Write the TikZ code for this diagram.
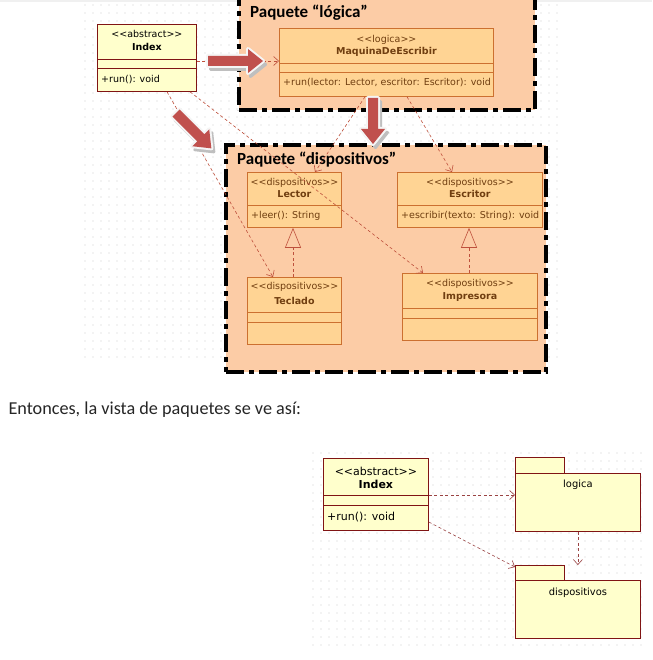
\documentclass[tikz,border=0pt]{standalone}
\usepackage{fontspec}
\setmainfont{Carlito}
\newfontfamily\uml{DejaVu Sans}
\usetikzlibrary{arrows.meta}
\definecolor{paq}{RGB}{252,204,166}
\definecolor{caja}{RGB}{255,212,148}
\definecolor{borde}{RGB}{204,112,48}
\definecolor{amarillo}{RGB}{255,255,204}
\definecolor{granate}{RGB}{128,20,20}
\definecolor{texto}{RGB}{112,62,16}
\definecolor{linea}{RGB}{190,80,60}
\definecolor{rojo}{RGB}{192,80,77}
\newcommand\st[1]{<\kern0pt<#1>\kern0pt>}
\newcommand\formaflecha[1]{(0,-5) -- (#1-15,-5) -- (#1-15,-12) -- (#1,0) -- (#1-15,12) -- (#1-15,5) -- (0,5) -- cycle}
\newcommand\flecha[4]{%
  \filldraw[gray!50,line width=3pt,line join=round,shift={(#1+2.5,#2+3.5)},rotate=#3] \formaflecha{#4};
  \draw[gray!8,line width=4pt,line join=round,shift={(#1,#2)},rotate=#3] \formaflecha{#4};
  \fill[rojo,shift={(#1,#2)},rotate=#3] \formaflecha{#4};}

\begin{document}
\begin{tikzpicture}[x=1pt,y=-1pt,
  clase/.style={draw=borde,fill=caja,line width=0.8pt,anchor=north west,inner sep=0pt},
  abstracta/.style={clase,draw=granate,fill=amarillo},
  paquete/.style={draw=black,fill=paq,line width=4pt,dash pattern=on 18pt off 5pt on 5pt off 5pt,anchor=north west,inner sep=0pt},
  carpeta/.style={draw=granate,fill=amarillo,line width=0.8pt,anchor=north west,inner sep=0pt},
  txt/.style={font=\uml\fontsize{9.5}{11}\selectfont,text=texto,inner sep=0pt},
  txtb/.style={txt,font=\uml\bfseries\fontsize{9.5}{11}\selectfont},
  txtg/.style={font=\uml\fontsize{11}{13}\selectfont,inner sep=0pt},
  txtgb/.style={font=\uml\bfseries\fontsize{11}{13}\selectfont,inner sep=0pt},
  titulo/.style={font=\bfseries\fontsize{17}{20}\selectfont,anchor=base west,inner sep=0pt},
  dep/.style={linea,line width=0.6pt,dash pattern=on 3pt off 2.5pt,-{Straight Barb[length=5pt,width=9pt]}},
  real/.style={linea,line width=0.6pt,dash pattern=on 3pt off 2.5pt,-{Triangle[length=20pt,width=16pt,fill=paq]}},
  punto/.style={gray!40}]
\useasboundingbox (0,0) rectangle (652,660);
\clip (0,0) rectangle (652,660);
\fill[white] (0,0) rectangle (652,660);
\fill[gray!12] (0,0) rectangle (652,2);
\foreach \x in {85,93,...,559} \foreach \y in {5,13,...,357} \fill[punto] (\x,\y) circle (0.55);
\foreach \x in {313,321,...,645} \foreach \y in {453,461,...,645} \fill[punto] (\x,\y) circle (0.55);

% paquetes
\node[paquete,minimum width=296,minimum height=128] (logica) at (237,-20) {};
\node[titulo] at (250,18) {Paquete “lógica”};
\node[paquete,minimum width=320,minimum height=227] (dispositivos) at (224,143) {};
\node[titulo] at (237,165) {Paquete “dispositivos”};

% clases
\node[abstracta,minimum width=99,minimum height=67] (index) at (97,24) {};
\draw[granate,line width=0.8pt] ([yshift=-35]index.north west) -- ([yshift=-35]index.north east);
\draw[granate,line width=0.8pt] ([yshift=-44]index.north west) -- ([yshift=-44]index.north east);
\node[txt,text=black] at ([yshift=-10]index.north) {\st{abstract}};
\node[txtb,text=black] at ([yshift=-23]index.north) {Index};
\node[txt,text=black,anchor=west] at ([xshift=4,yshift=-56]index.north west) {+run(): void};

\node[clase,minimum width=214,minimum height=68] (maquina) at (279,28) {};
\draw[borde,line width=0.8pt] ([yshift=-35]maquina.north west) -- ([yshift=-35]maquina.north east);
\draw[borde,line width=0.8pt] ([yshift=-44]maquina.north west) -- ([yshift=-44]maquina.north east);
\node[txt] at ([yshift=-12]maquina.north) {\st{logica}};
\node[txtb] at ([yshift=-24]maquina.north) {MaquinaDeEscribir};
\node[txt,anchor=west] at ([xshift=4,yshift=-55]maquina.north west) {+run(lector: Lector, escritor: Escritor): void};

\node[clase,minimum width=94,minimum height=55] (lector) at (247,172) {};
\draw[borde,line width=0.8pt] ([yshift=-33]lector.north west) -- ([yshift=-33]lector.north east);
\node[txt] at ([yshift=-11]lector.north) {\st{dispositivos}};
\node[txtb] at ([yshift=-22]lector.north) {Lector};
\node[txt,anchor=west] at ([xshift=4,yshift=-44]lector.north west) {+leer(): String};

\node[clase,minimum width=145,minimum height=55] (escritor) at (397,172) {};
\draw[borde,line width=0.8pt] ([yshift=-33]escritor.north west) -- ([yshift=-33]escritor.north east);
\node[txt] at ([yshift=-11]escritor.north) {\st{dispositivos}};
\node[txtb] at ([yshift=-22]escritor.north) {Escritor};
\node[txt,anchor=west] at ([xshift=4,yshift=-44]escritor.north west) {+escribir(texto: String): void};

\node[clase,minimum width=94,minimum height=67] (teclado) at (247,277) {};
\draw[borde,line width=0.8pt] ([yshift=-35]teclado.north west) -- ([yshift=-35]teclado.north east);
\draw[borde,line width=0.8pt] ([yshift=-45]teclado.north west) -- ([yshift=-45]teclado.north east);
\node[txt] at ([yshift=-10]teclado.north) {\st{dispositivos}};
\node[txtb] at ([yshift=-24]teclado.north) {Teclado};

\node[clase,minimum width=135,minimum height=67] (impresora) at (402,273) {};
\draw[borde,line width=0.8pt] ([yshift=-35]impresora.north west) -- ([yshift=-35]impresora.north east);
\draw[borde,line width=0.8pt] ([yshift=-45]impresora.north west) -- ([yshift=-45]impresora.north east);
\node[txt] at ([yshift=-11]impresora.north) {\st{dispositivos}};
\node[txtb] at ([yshift=-24]impresora.north) {Impresora};

% relaciones
\draw[dep] ([yshift=-37]index.north east) -- ([yshift=-33]maquina.north west);
\draw[dep] ([xshift=70]index.south west) -- ([xshift=26]teclado.north west);
\draw[dep] ([xshift=93]index.south west) -- ([xshift=21]impresora.north west);
\draw[dep] ([xshift=86]maquina.south west) -- ([xshift=68]lector.north west);
\draw[dep] ([xshift=128]maquina.south west) -- ([xshift=55]escritor.north west);
\draw[real] ([xshift=46]teclado.north west) -- ([xshift=46]lector.south west);
\draw[real] ([xshift=67]impresora.north west) -- ([xshift=72]escritor.south west);

\flecha{208}{61}{0}{55}
\flecha{176}{113}{-45}{50}
\flecha{373}{98}{-90}{46}

\node[anchor=base west,font=\fontsize{18.2}{21}\selectfont,text=black!85] (entonces) at (5,414) {Entonces, la vista de paquetes se ve así:};

% vista de paquetes
\node[carpeta,minimum width=105,minimum height=72] (indice) at (323,458) {};
\draw[granate,line width=0.8pt] ([yshift=-37]indice.north west) -- ([yshift=-37]indice.north east);
\draw[granate,line width=0.8pt] ([yshift=-47]indice.north west) -- ([yshift=-47]indice.north east);
\node[txtg] at ([yshift=-13]indice.north) {\st{abstract}};
\node[txtgb] at ([yshift=-26]indice.north) {Index};
\node[txtg,anchor=west] at ([xshift=4,yshift=-59]indice.north west) {+run(): void};

\node[carpeta,minimum width=125,minimum height=58] (plogica) at (515,473) {};
\draw[carpeta] (plogica.north west) rectangle ++(49,-16);
\node[font=\uml\fontsize{9.9}{12}\selectfont] at ([yshift=-12]plogica.north) {logica};
\node[carpeta,minimum width=125,minimum height=58] (pdispositivos) at (515,580) {};
\draw[carpeta] (pdispositivos.north west) rectangle ++(49,-15);
\node[font=\uml\fontsize{9.9}{12}\selectfont] at ([yshift=-13]pdispositivos.north) {dispositivos};

\draw[dep,granate!80] ([yshift=-37]indice.north east) -- ([yshift=-22]plogica.north west);
\draw[dep,granate!80] ([yshift=-64]indice.north east) -- ([yshift=13]pdispositivos.north west);
\draw[dep,granate!80] (plogica.south) -- ([yshift=15]pdispositivos.north);
\end{tikzpicture}
\end{document}
